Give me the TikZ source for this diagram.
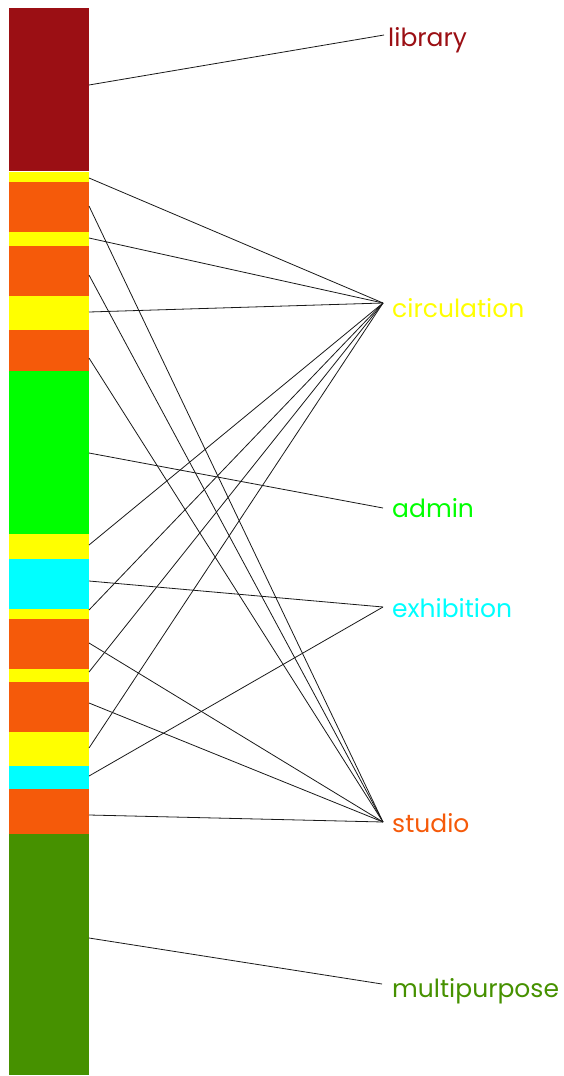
\documentclass[tikz,border=0pt]{standalone}
\usepackage{fontspec}
\setmainfont{Poppins}
\definecolor{clib}{RGB}{155,15,20}
\definecolor{ccirc}{RGB}{255,255,0}
\definecolor{cstud}{RGB}{245,90,10}
\definecolor{cadm}{RGB}{0,255,0}
\definecolor{cexh}{RGB}{0,255,255}
\definecolor{cmul}{RGB}{70,145,0}
\begin{document}
\begin{tikzpicture}[x=1pt,y=-1pt,
  seg/.style={draw=none,inner sep=0pt,outer sep=0pt,minimum width=80pt},
  lab/.style={anchor=base west,inner sep=0pt,font=\fontsize{25}{25}\selectfont},
  link/.style={draw=black!90,line width=0.8pt}]
\useasboundingbox (0,0) rectangle (563,1076);
% bar segments: name/top/bottom/color
\foreach \n/\a/\b/\c in {s1/8/171/clib, s2/172/182/ccirc, s3/182/232/cstud, s4/232/246/ccirc,
  s5/246/296/cstud, s6/296/330/ccirc, s7/330/371/cstud, s8/371/534/cadm, s9/534/559/ccirc,
  s10/559/609/cexh, s11/609/619/ccirc, s12/619/669/cstud, s13/669/682/ccirc, s14/682/732/cstud,
  s15/732/766/ccirc, s16/766/789/cexh, s17/789/834/cstud, s18/834/1075/cmul}{
  \fill[\c] (9,\a) rectangle (89,\b);
  \coordinate (\n) at (89,\a);
}
% labels
\node[lab,text=clib] (Llib) at (388,46) {library};
\node[lab,text=ccirc] (Lcirc) at (392,317) {circulation};
\node[lab,text=cadm] (Ladm) at (392,517) {admin};
\node[lab,text=cexh] (Lexh) at (392,617) {exhibition};
\node[lab,text=cstud] (Lstud) at (392,832) {studio};
\node[lab,text=cmul] (Lmul) at (392,997) {multipurpose};
% connector ends
\coordinate (Elib) at (384,35);
\coordinate (Ecirc) at (383,303);
\coordinate (Eadm) at (383,508);
\coordinate (Eexh) at (383,607);
\coordinate (Estud) at (383,822);
\coordinate (Emul) at (382,984);
% connectors
\draw[link] (s1|-0,85) -- (Elib);
\foreach \s/\y in {s2/178, s4/238, s6/312, s9/545, s11/610, s13/672, s15/748}
  \draw[link] (\s|-0,\y) -- (Ecirc);
\foreach \s/\y in {s3/206, s5/275, s7/358, s12/643, s14/703, s17/815}
  \draw[link] (\s|-0,\y) -- (Estud);
\draw[link] (s8|-0,453) -- (Eadm);
\foreach \s/\y in {s10/581, s16/776}
  \draw[link] (\s|-0,\y) -- (Eexh);
\draw[link] (s18|-0,938) -- (Emul);
\end{tikzpicture}
\end{document}
